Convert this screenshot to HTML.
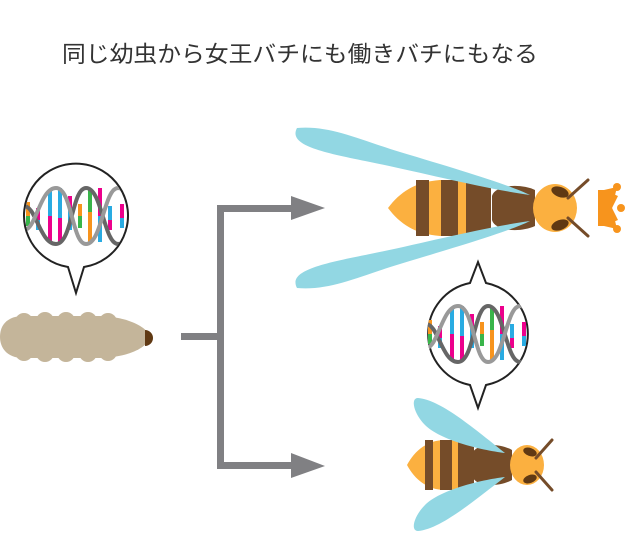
<!DOCTYPE html>
<html><head><meta charset="utf-8"><style>
html,body{margin:0;padding:0;background:#fff;width:641px;height:548px;overflow:hidden}
</style></head><body>
<svg width="641" height="548" viewBox="0 0 641 548" xmlns="http://www.w3.org/2000/svg">
<text x="62" y="62" font-family="Liberation Sans, Noto Sans CJK JP, sans-serif" font-size="22.5" fill="#333" textLength="476" lengthAdjust="spacingAndGlyphs">同じ幼虫から女王バチにも働きバチにもなる</text>

<defs>
<g id="dna">
  <g stroke-width="4">
    <line x1="-48" y1="-14" x2="-48" y2="0" stroke="#f7941d"/><line x1="-48" y1="0" x2="-48" y2="10" stroke="#39b54a"/>
    <line x1="-38" y1="-8" x2="-38" y2="4" stroke="#ec008c"/><line x1="-38" y1="4" x2="-38" y2="14" stroke="#29abe2"/>
    <line x1="-26" y1="-26" x2="-26" y2="0" stroke="#29abe2"/><line x1="-26" y1="0" x2="-26" y2="26" stroke="#ec008c"/>
    <line x1="-16" y1="-28" x2="-16" y2="2" stroke="#29abe2"/><line x1="-16" y1="2" x2="-16" y2="26" stroke="#ec008c"/>
    <line x1="-6" y1="-20" x2="-6" y2="-8" stroke="#ec008c"/><line x1="-6" y1="-8" x2="-6" y2="14" stroke="#29abe2"/>
    <line x1="4" y1="-12" x2="4" y2="0" stroke="#f7941d"/><line x1="4" y1="0" x2="4" y2="12" stroke="#39b54a"/>
    <line x1="14" y1="-26" x2="14" y2="-4" stroke="#39b54a"/><line x1="14" y1="-4" x2="14" y2="26" stroke="#f7941d"/>
    <line x1="24" y1="-28" x2="24" y2="0" stroke="#ec008c"/><line x1="24" y1="0" x2="24" y2="26" stroke="#29abe2"/>
    <line x1="34" y1="-10" x2="34" y2="4" stroke="#29abe2"/><line x1="34" y1="4" x2="34" y2="14" stroke="#ec008c"/>
    <line x1="46" y1="-12" x2="46" y2="2" stroke="#ec008c"/><line x1="46" y1="2" x2="46" y2="12" stroke="#29abe2"/>
  </g>
  <path d="M-52 -10 C-40 -10 -36 28 -20 28 C-4 28 -4 -28 10 -28 C26 -28 28 28 42 28 C50 28 52 14 54 8" fill="none" stroke="#666" stroke-width="4"/>
  <path d="M-52 14 C-40 14 -36 -28 -20 -28 C-4 -28 -4 28 10 28 C26 28 28 -28 42 -28 C50 -28 52 -14 54 -8" fill="none" stroke="#999" stroke-width="4"/>
</g>
<clipPath id="c1"><circle cx="76" cy="216" r="51"/></clipPath>
<clipPath id="c2"><circle cx="478" cy="334" r="51"/></clipPath>
</defs>

<path d="M68 267 A52 52 0 1 1 84 267 L76 293 Z" fill="#fff" stroke="#222" stroke-width="2"/>
<g clip-path="url(#c1)"><use href="#dna" x="76" y="216"/></g>

<g fill="#c4b59a">
  <path d="M20 316 H100 C130 317 148 328 150 337 C148 347 130 357 100 358 H20 C4 356 0 345 0 337 C0 328 4 318 20 316 Z"/>
  <circle cx="24" cy="322" r="9"/><circle cx="45" cy="321" r="9"/><circle cx="66" cy="321" r="9"/><circle cx="88" cy="321" r="9"/><circle cx="108" cy="322" r="9"/>
  <circle cx="24" cy="352" r="9"/><circle cx="45" cy="353" r="9"/><circle cx="66" cy="353" r="9"/><circle cx="88" cy="353" r="9"/><circle cx="108" cy="352" r="9"/>
</g>
<path d="M145 330 A8 8 0 0 1 145 346 Z" fill="#603913"/>

<g fill="#808083">
  <rect x="181" y="333" width="42" height="7"/>
  <rect x="217" y="205" width="7" height="264"/>
  <rect x="217" y="205" width="80" height="7"/>
  <rect x="217" y="462" width="80" height="7"/>
  <polygon points="291,196 325,208 291,220"/>
  <polygon points="291,453 325,466 291,478"/>
</g>

<path d="M388 208 C400 192 415 182 440 180 H490 V236 H440 C415 234 400 224 388 208 Z" fill="#fbb040"/>
<g fill="#754c29"><rect x="416" y="180" width="13" height="56"/><rect x="441" y="180" width="17" height="56"/><rect x="466" y="180" width="25" height="56"/></g>
<path d="M492 196 C495 185 520 183 535 190 V226 C520 233 495 231 492 220 Z" fill="#754c29"/>
<ellipse cx="555" cy="208" rx="22" ry="24" fill="#fbb040"/>
<ellipse cx="560" cy="192" rx="9" ry="5" fill="#603913" transform="rotate(20 560 192)"/>
<ellipse cx="560" cy="225" rx="9" ry="5" fill="#603913" transform="rotate(-20 560 225)"/>
<path d="M568 198 L588 180 M568 218 L588 236" stroke="#754c29" stroke-width="3" stroke-linecap="round"/>
<path d="M297 128 C330 125 360 140 400 152 C460 170 510 185 530 195 C480 188 420 172 370 162 C320 152 288 145 297 128 Z" fill="#92d7e3"/>
<path d="M297 288 C330 291 360 276 400 264 C460 246 510 231 530 221 C480 228 420 244 370 254 C320 264 288 271 297 288 Z" fill="#92d7e3"/>
<path d="M598 190 L604 190 L618 196 L612 208 L618 220 L604 226 L598 226 Z" fill="#f7941d"/>
<circle cx="617" cy="187" r="4" fill="#f7941d"/><circle cx="621" cy="208" r="4" fill="#f7941d"/><circle cx="617" cy="229" r="4" fill="#f7941d"/>
<path d="M604 190 L617 187 L612 208 L617 229 L604 226 Z" fill="#f7941d"/>

<path d="M470 283 L478 262 L486 283 A52 52 0 0 1 486 385 L478 408 L470 385 A52 52 0 0 1 470 283 Z" fill="#fff" stroke="#222" stroke-width="2"/>
<g clip-path="url(#c2)"><use href="#dna" x="478" y="334"/></g>

<path d="M407 465 C415 450 428 440 445 440 H473 V490 H445 C428 490 415 480 407 465 Z" fill="#fbb040"/>
<g fill="#754c29"><rect x="425" y="440" width="8" height="50"/><rect x="440" y="440" width="12" height="50"/><rect x="458" y="440" width="16" height="50"/></g>
<path d="M473 452 C478 443 500 443 512 450 V480 C500 487 478 487 473 478 Z" fill="#754c29"/>
<ellipse cx="527" cy="465" rx="17" ry="20" fill="#fbb040"/>
<ellipse cx="530" cy="452" rx="7" ry="4" fill="#603913" transform="rotate(20 530 452)"/>
<ellipse cx="530" cy="479" rx="7" ry="4" fill="#603913" transform="rotate(-20 530 479)"/>
<path d="M536 458 L552 440 M536 472 L552 490" stroke="#754c29" stroke-width="3" stroke-linecap="round"/>
<path d="M418 398 C440 400 470 425 505 453 C480 450 440 440 425 425 C414 414 410 398 418 398 Z" fill="#92d7e3"/>
<path d="M418 531 C440 529 470 504 505 477 C480 480 440 490 425 505 C414 516 410 531 418 531 Z" fill="#92d7e3"/>
</svg>
</body></html>
